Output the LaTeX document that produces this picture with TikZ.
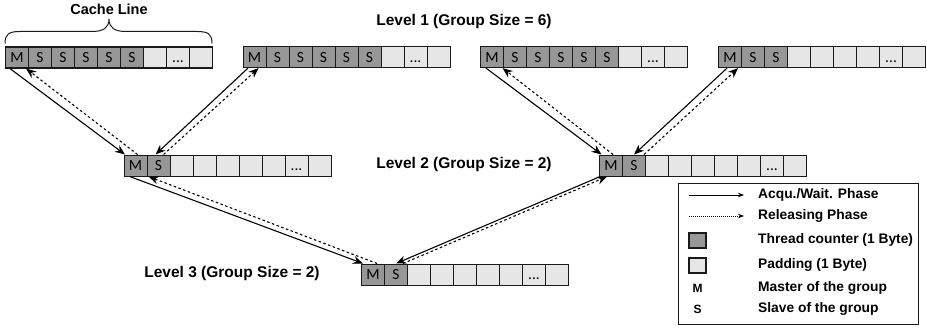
\documentclass[tikz,border=0pt]{standalone}
\usepackage{fontspec}
\setmainfont{Liberation Sans}
\newfontfamily\cellfont{Carlito}
\usetikzlibrary{arrows.meta,calc}
\definecolor{dark}{HTML}{979797}
\definecolor{light}{HTML}{E6E6E6}
\definecolor{edge}{HTML}{1A1A1A}
\newcommand\celldots{...}
\newcommand\mkrow[4]{%
  \foreach \k/\t [count=\i] in {#4}{%
    \node[\k] (#1\i) at ({#2+23*(\i-1)},#3) {\t};
  }%
}
\begin{document}
\begin{tikzpicture}[x=1pt,y=-1pt,
  cell/.style={draw=edge,line width=1.1pt,minimum width=23pt,minimum height=21pt,
    inner sep=0pt,anchor=north west,text height=10pt,text depth=0pt,
    font=\cellfont\fontsize{15.5}{15.5}\selectfont},
  dk/.style={cell,fill=dark},
  lt/.style={cell,fill=light},
  lbl/.style={font=\bfseries\fontsize{15.5}{18}\selectfont,inner sep=0pt},
  legtxt/.style={font=\bfseries\fontsize{13.8}{16}\selectfont,anchor=west,inner sep=0pt},
  acq/.style={line width=1.1pt,-{Stealth[length=10pt,width=8pt]}},
  rel/.style={line width=1.1pt,dash pattern=on 2.5pt off 2.5pt,-{Stealth[length=10pt,width=8pt]}},
  acqleg/.style={line width=0.8pt,-{Stealth[length=6pt,width=4.5pt]}},
  relleg/.style={line width=0.8pt,dash pattern=on 1pt off 1pt,-{Stealth[length=6pt,width=4.5pt]}},
  ]
\useasboundingbox (0,0) rectangle (927,329);

% cache lines
\mkrow{A}{5}{46.5}{dk/M,dk/S,dk/S,dk/S,dk/S,dk/S,lt/{},lt/\celldots,lt/{}}
\mkrow{B}{242.5}{46}{dk/M,dk/S,dk/S,dk/S,dk/S,dk/S,lt/{},lt/\celldots,lt/{}}
\mkrow{C}{480}{46}{dk/M,dk/S,dk/S,dk/S,dk/S,dk/S,lt/{},lt/\celldots,lt/{}}
\mkrow{D}{718}{46}{dk/M,dk/S,dk/S,lt/{},lt/{},lt/{},lt/{},lt/\celldots,lt/{}}
\mkrow{E}{123.5}{154.5}{dk/M,dk/S,lt/{},lt/{},lt/{},lt/{},lt/{},lt/\celldots,lt/{}}
\mkrow{F}{599}{154.5}{dk/M,dk/S,lt/{},lt/{},lt/{},lt/{},lt/{},lt/\celldots,lt/{}}
\mkrow{G}{361}{263.5}{dk/M,dk/S,lt/{},lt/{},lt/{},lt/{},lt/{},lt/\celldots,lt/{}}

% labels
\node[lbl,font=\bfseries\fontsize{14.5}{16}\selectfont] (cl) at (109,9) {Cache Line};
\node[lbl] (l1) at (464,21) {Level 1 (Group Size = 6)};
\node[lbl] (l2) at (464,164) {Level 2 (Group Size = 2)};
\node[lbl] (l3) at (232,273) {Level 3 (Group Size = 2)};

% brace over the first cache line
\draw[line width=1pt,edge]
  (5,43.5) .. controls (5,34) and (9,31.5) .. (20,31.5) -- (92,31.5)
  .. controls (103,31.5) and (109,28) .. (109,19)
  .. controls (109,28) and (115,31.5) .. (126,31.5) -- (197,31.5)
  .. controls (208,31.5) and (212,34) .. (212,43.5);

% level 1 -> level 2
\draw[acq] ([xshift=5pt]A1.south west) -- ([xshift=1.5pt]E1.north west);
\draw[rel] ([xshift=2pt]E1.north) -- ([xshift=-3pt]A1.south east);
\draw[acq] ([xshift=5.5pt]B1.south west) -- ([xshift=-3pt]E2.north);
\draw[rel] ([xshift=5pt]E2.north) -- ([xshift=4pt]B1.south);
\draw[acq] ([xshift=6pt]C1.south west) -- ([xshift=2.5pt]F1.north west);
\draw[rel] ([xshift=2pt]F1.north) -- ([xshift=-1.5pt]C1.south east);
\draw[acq] ([xshift=-3pt]D1.south) -- ([xshift=0pt]F2.north);
\draw[rel] ([xshift=-2pt]F2.north east) -- ([xshift=-4pt]D1.south east);

% level 2 -> level 3
\draw[acq] ([xshift=6.5pt]E1.south west) -- ([xshift=2pt]G1.north west);
\draw[rel] ([xshift=4pt]G1.north) -- ([xshift=1pt]E1.south east);
\draw[acq] ([xshift=1pt]F1.south west) -- (G2.north);
\draw[rel] ([xshift=7pt]G2.north) -- ([xshift=8pt]F1.south west);

% legend
\node[draw=edge,line width=1.2pt,fill=white,minimum width=240pt,minimum height=141pt,
  anchor=north west,inner sep=0pt] (leg) at (678,183) {};
\coordinate (a1) at (689,195);
\coordinate (a2) at (744,195);
\coordinate (r1) at (689,216);
\coordinate (r2) at (744,216);
\draw[acqleg] (a1) -- (a2);
\draw[relleg] (r1) -- (r2);
\node[dk,anchor=center,minimum width=17pt,minimum height=15pt] (sq1) at (697.5,240.5) {};
\node[lt,anchor=center,minimum width=17pt,minimum height=15pt] (sq2) at (697.5,265.5) {};
\node[font=\bfseries\fontsize{12}{13}\selectfont,inner sep=0pt] (lm) at (697.5,288) {M};
\node[font=\bfseries\fontsize{12}{13}\selectfont,inner sep=0pt] (ls) at (697.5,309) {S};
\node[legtxt] (t1) at (758,195) {Acqu./Wait. Phase};
\node[legtxt] (t2) at (758,216) {Releasing Phase};
\node[legtxt] (t3) at (758,240) {Thread counter (1 Byte)};
\node[legtxt] (t4) at (758,265) {Padding (1 Byte)};
\node[legtxt] (t5) at (758,288) {Master of the group};
\node[legtxt] (t6) at (758,309) {Slave of the group};
\end{tikzpicture}
\end{document}
